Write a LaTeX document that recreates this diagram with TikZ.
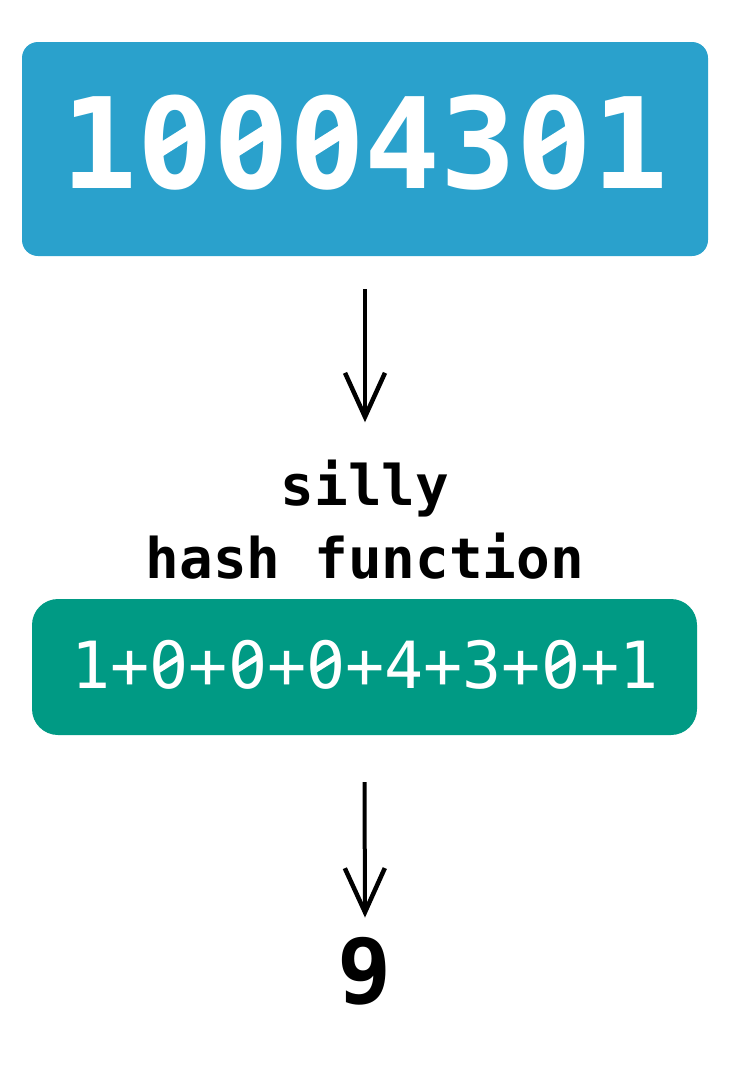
\documentclass[tikz,border=0pt]{standalone}
\usepackage{fontspec}
\newfontfamily\dmono{DejaVu Sans Mono}
\usetikzlibrary{arrows.meta}
\definecolor{boxblue}{RGB}{42,161,204}
\definecolor{boxgreen}{RGB}{0,154,132}
\tikzset{
  databox/.style={rectangle, inner sep=0pt, draw=none},
  flowarrow/.style={line width=4pt, -{Straight Barb[length=44pt,width=40pt,line width=4.5pt]}},
  txt/.style={inner sep=0pt, anchor=base, font=\dmono},
  zeroslash/.style={white, line width=#1}
}
\begin{document}
\begin{tikzpicture}[x=1pt,y=-1pt]
\useasboundingbox (0,0) rectangle (730,1074);
% input box
\node[databox, fill=boxblue, rounded corners=16pt, minimum width=686pt, minimum height=214pt] (input) at (365,149) {};
\node[txt, text=white, font=\dmono\bfseries\fontsize{126}{126}\selectfont] (inputtext) at (365,188) {10004301};
% slashed zeros (bold)
\foreach \zx in {175.4,251.2,327.1,554.7} {
  \fill[boxblue] (\zx,142.1) ellipse [x radius=12pt, y radius=17pt];
  \draw[zeroslash=13pt] (\zx-19,152.6) -- (\zx+19,128.6);
}
% label
\node[txt, font=\dmono\bfseries\fontsize{56}{56}\selectfont] (lbl1) at (365,505) {silly};
\node[txt, font=\dmono\bfseries\fontsize{56}{56}\selectfont] (lbl2) at (365,578) {hash function};
% sum box
\node[databox, fill=boxgreen, rounded corners=26pt, minimum width=665pt, minimum height=136pt] (sum) at (364.5,667) {};
\node[txt, text=white, font=\dmono\fontsize{65}{65}\selectfont] (sumtext) at (365,688) {1+0+0+0+4+3+0+1};
% slashed zeros (regular)
\foreach \zx in {169.3,247.6,325.9,560.6} {
  \fill[boxgreen] (\zx,664.3) ellipse [x radius=5pt, y radius=8pt];
  \draw[zeroslash=5.5pt] (\zx-10.5,670.1) -- (\zx+10.5,656.8);
}
% result
\node[txt, font=\dmono\bfseries\fontsize{90}{90}\selectfont] (result) at (365,1003) {9};
% arrows
\coordinate (a1s) at ([yshift=-33pt]input.south);
\coordinate (a1e) at ([yshift=37pt]lbl1.north);
\coordinate (a2s) at ([yshift=-47pt]sum.south);
\coordinate (a2e) at ([yshift=19pt]result.north);
\draw[flowarrow] (a1s) -- (a1e);
\draw[flowarrow] (a2s) -- (a2e);
\end{tikzpicture}
\end{document}
